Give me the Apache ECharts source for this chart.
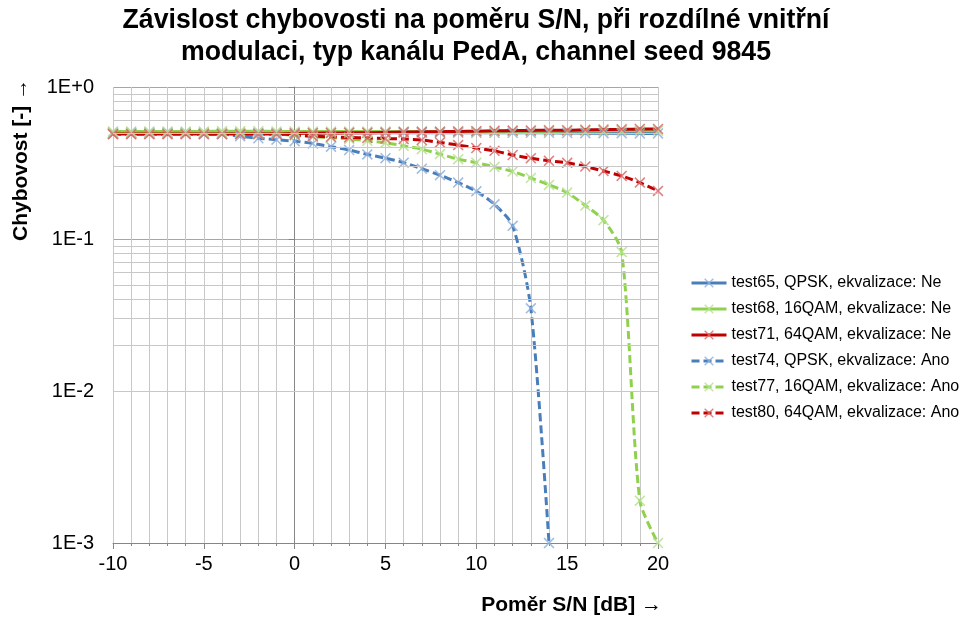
<!DOCTYPE html>
<html>
<head>
<meta charset="utf-8">
<script src="https://cdn.jsdelivr.net/npm/echarts@6/dist/echarts.min.js"></script>
<style>
  html, body { margin: 0; padding: 0; background: #ffffff; }
  #chart { width: 962px; height: 619px; }
</style>
</head>
<body>
<div id="chart"></div>
<script>
// Poměr S/N [dB]
const snr = [-10, -9, -8, -7, -6, -5, -4, -3, -2, -1, 0, 1, 2, 3, 4, 5, 6, 7, 8, 9, 10,
             11, 12, 13, 14, 15, 16, 17, 18, 19, 20];

// Chybovost, bez ekvalizace
const test65 = [0.5, 0.5, 0.5, 0.5, 0.5, 0.5, 0.5, 0.5, 0.5, 0.5, 0.5, 0.5, 0.5, 0.5, 0.5, 0.5,
                0.5, 0.5, 0.5, 0.5, 0.5, 0.5, 0.5, 0.5, 0.5, 0.498, 0.497, 0.497, 0.496, 0.495, 0.495];
const test68 = [0.51, 0.51, 0.51, 0.51, 0.51, 0.51, 0.512, 0.512, 0.512, 0.51, 0.51, 0.51, 0.51, 0.51,
                0.51, 0.51, 0.51, 0.51, 0.51, 0.51, 0.51, 0.51, 0.512, 0.512, 0.512, 0.513, 0.513,
                0.514, 0.515, 0.515, 0.515];
const test71 = [0.49, 0.49, 0.49, 0.49, 0.49, 0.49, 0.49, 0.49, 0.49, 0.49, 0.495, 0.497, 0.498, 0.5,
                0.5, 0.502, 0.505, 0.507, 0.508, 0.51, 0.512, 0.515, 0.517, 0.518, 0.52, 0.52,
                0.523, 0.525, 0.527, 0.53, 0.53];

// Chybovost, s ekvalizací
const test74 = [0.5, 0.5, 0.5, 0.5, 0.5, 0.49, 0.49, 0.475, 0.46, 0.45, 0.44, 0.425, 0.405, 0.385,
                0.36, 0.34, 0.318, 0.29, 0.263, 0.235, 0.206, 0.169, 0.122, 0.035, 0.001];
const test77 = [0.5, 0.5, 0.5, 0.5, 0.5, 0.5, 0.5, 0.5, 0.49, 0.49, 0.48, 0.47, 0.465, 0.455, 0.443,
                0.43, 0.41, 0.39, 0.362, 0.335, 0.318, 0.298, 0.278, 0.252, 0.227, 0.202, 0.166,
                0.133, 0.082, 0.0019, 0.001];
const test80 = [0.49, 0.49, 0.49, 0.49, 0.49, 0.49, 0.49, 0.49, 0.49, 0.49, 0.485, 0.475, 0.47,
                0.466, 0.462, 0.458, 0.455, 0.448, 0.432, 0.415, 0.397, 0.38, 0.357, 0.34, 0.327,
                0.317, 0.3, 0.28, 0.26, 0.235, 0.207];

const seriesNames = [
  'test65, QPSK, ekvalizace: Ne',
  'test68, 16QAM, ekvalizace: Ne',
  'test71, 64QAM, ekvalizace: Ne',
  'test74, QPSK, ekvalizace: Ano',
  'test77, 16QAM, ekvalizace: Ano',
  'test80, 64QAM, ekvalizace: Ano'
];

const titleLines = [
  'Závislost chybovosti na poměru S/N, při rozdílné vnitřní',
  'modulaci, typ kanálu PedA, channel seed 9845'
];
const xName = 'Poměr S/N [dB] →';
const yName = 'Chybovost [-] →';

const FONT = '"Liberation Sans", Arial, Helvetica, sans-serif';
const CROSS = 'path://M1,0 L5,4 L9,0 L10,1 L6,5 L10,9 L9,10 L5,6 L1,10 L0,9 L4,5 L0,1 Z';

function textWidth(str, font) {
  const ctx = document.createElement('canvas').getContext('2d');
  ctx.font = font;
  return ctx.measureText(str).width;
}

// the title is set in a horizontally condensed bold face
const titleFont = 'bold 27px ' + FONT;
const titleScale = 590 / textWidth(titleLines[1], titleFont);

function makeSeries(name, values, lineColor, markColor, dashed) {
  const data = [];
  values.forEach((v, i) => { if (v != null) data.push([snr[i], v]); });
  return {
    name: name,
    type: 'line',
    data: data,
    smooth: 0.25,
    symbol: CROSS,
    symbolSize: 11,
    showSymbol: true,
    lineStyle: { color: lineColor, width: 3, type: dashed ? [8, 4] : 'solid', cap: 'butt' },
    itemStyle: { color: markColor, opacity: 0.85 },
    emphasis: { disabled: true },
    z: 3
  };
}

// logarithmic minor grid: 2..9 within each decade
const minorGrid = [];
[0.001, 0.01, 0.1].forEach(d => { for (let k = 2; k <= 9; k++) minorGrid.push(+(d * k).toPrecision(3)); });

function logLabel(v) {
  const e = Math.round(Math.log10(v));
  return '1E' + (e >= 0 ? '+' : '-') + Math.abs(e);
}

const chart = echarts.init(document.getElementById('chart'), null, { renderer: 'canvas' });

chart.setOption({
  animation: false,
  backgroundColor: '#ffffff',
  textStyle: { fontFamily: FONT },
  grid: { left: 113, right: 304, top: 87, bottom: 76, containLabel: false },
  graphic: [
    { type: 'text', x: 476, y: 20.5, scaleX: titleScale,
      style: { text: titleLines[0], font: titleFont, fill: '#000', align: 'center', verticalAlign: 'middle' } },
    { type: 'text', x: 476, y: 52.5, scaleX: titleScale,
      style: { text: titleLines[1], font: titleFont, fill: '#000', align: 'center', verticalAlign: 'middle' } },
    { type: 'text', x: 21, y: 241, rotation: Math.PI / 2,
      style: { text: yName, font: 'bold 21px ' + FONT, fill: '#000', align: 'left', verticalAlign: 'middle' } },
    { type: 'text', x: 662, y: 605,
      style: { text: xName, font: 'bold 21px ' + FONT, fill: '#000', align: 'right', verticalAlign: 'middle' } }
  ],
  legend: {
    orient: 'vertical',
    left: 690,
    top: 275,
    padding: 0,
    itemWidth: 35,
    itemHeight: 12,
    itemGap: 10,
    data: seriesNames,
    lineStyle: { width: 3 },
    textStyle: { fontSize: 16, fontFamily: FONT, color: '#000' },
    selectedMode: false
  },
  xAxis: {
    type: 'value',
    min: -10,
    max: 20,
    interval: 5,
    axisLine: { show: true, onZero: false, lineStyle: { color: '#868686', width: 1 } },
    axisTick: { show: true, length: 6, lineStyle: { color: '#868686' } },
    minorTick: { show: true, splitNumber: 5, length: 3, lineStyle: { color: '#868686' } },
    axisLabel: { fontSize: 20, color: '#000', margin: 11, fontFamily: FONT },
    splitLine: { show: true, lineStyle: { color: '#c8c8c8', width: 1 } },
    minorSplitLine: { show: true, lineStyle: { color: '#c8c8c8', width: 1 } }
  },
  yAxis: {
    type: 'log',
    logBase: 10,
    min: 0.001,
    max: 1,
    axisLine: { show: true, lineStyle: { color: '#868686', width: 1 } },
    axisTick: { show: true, length: 6, lineStyle: { color: '#868686' } },
    axisLabel: { fontSize: 20, color: '#000', margin: 19, fontFamily: FONT, formatter: logLabel },
    splitLine: { show: true, lineStyle: { color: '#a6a6a6', width: 1 } }
  },
  series: [
    {
      name: 'minor-grid',
      type: 'line',
      data: [],
      silent: true,
      z: 1,
      markLine: {
        silent: true,
        symbol: 'none',
        label: { show: false },
        emphasis: { disabled: true },
        lineStyle: { color: '#c8c8c8', type: 'solid', width: 1 },
        data: minorGrid.map(v => ({ yAxis: v }))
      }
    },
    makeSeries(seriesNames[0], test65, '#4a7ebb', '#8eb0dc', false),
    makeSeries(seriesNames[1], test68, '#8fd14f', '#b6e28e', false),
    makeSeries(seriesNames[2], test71, '#c00000', '#dc6a6a', false),
    makeSeries(seriesNames[3], test74, '#4a7ebb', '#8eb0dc', true),
    makeSeries(seriesNames[4], test77, '#8fd14f', '#b6e28e', true),
    makeSeries(seriesNames[5], test80, '#c00000', '#dc6a6a', true)
  ]
});
</script>
</body>
</html>
